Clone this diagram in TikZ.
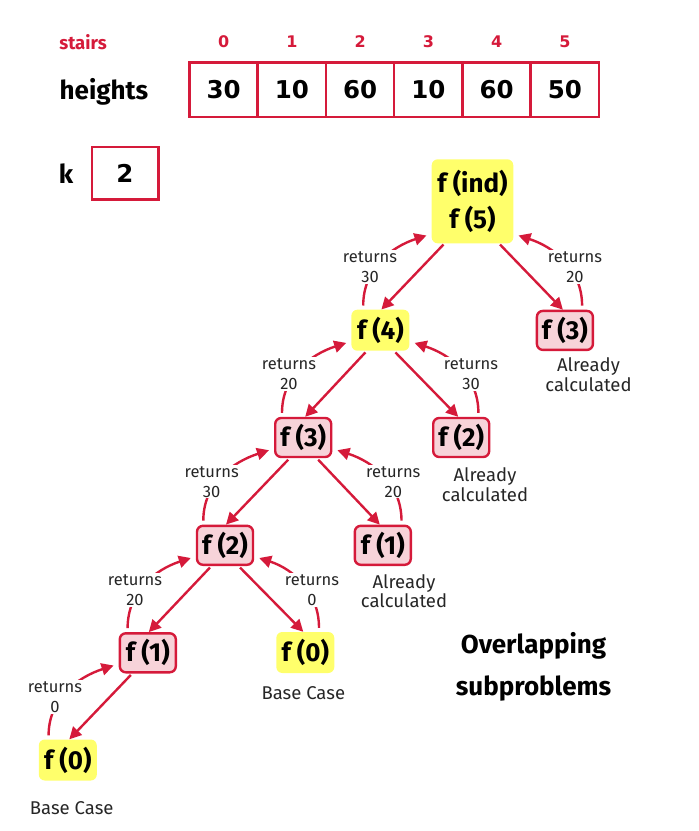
\documentclass[tikz,border=0pt]{standalone}
\usepackage{fontspec}
\setmainfont{Fira Sans}
\newfontfamily\numfont{DejaVu Sans}
\usetikzlibrary{arrows.meta,calc}
\definecolor{myred}{HTML}{D51A3A}
\definecolor{myyellow}{HTML}{FFFF6B}
\definecolor{mypink}{HTML}{F7D3D9}
\begin{document}
\begin{tikzpicture}[x=1pt,y=-1pt,
  fnode/.style={rounded corners=6pt, font=\fontsize{26}{30}\selectfont\bfseries, minimum height=41pt, minimum width=58pt, inner sep=2pt},
  ynode/.style={fnode, fill=myyellow},
  pnode/.style={fnode, fill=mypink, draw=myred, line width=2.4pt, minimum height=39pt, minimum width=56pt},
  edge/.style={draw=myred, line width=2.4pt, -{Triangle[length=12pt,width=12pt]}},
  ret/.style={edge},
  lbl/.style={font=\fontsize{16.5}{20}\selectfont, align=center, fill=white, inner sep=1pt, text=black!85},
  note/.style={font=\fontsize{18.5}{19.5}\selectfont, align=center, text=black!85},
  cell/.style={draw=myred, line width=2.5pt, minimum width=68.25pt, minimum height=54.5pt, inner sep=0pt, font=\numfont\fontsize{24.5}{28}\selectfont\bfseries},
  idx/.style={text=myred, font=\numfont\fontsize{16}{18}\selectfont\bfseries}
]
\useasboundingbox (0,0) rectangle (699,831);

% array
\node[text=myred, font=\fontsize{18.5}{20}\selectfont\bfseries] (stairs) at (83,41.7) {stairs};
\node[font=\fontsize{26}{28}\selectfont\bfseries] (heights) at (104,91.7) {heights};
\foreach \i/\v in {0/30,1/10,2/60,3/10,4/60,5/50}{
  \node[cell] (c\i) at (223.6+68.25*\i,89.5) {\v};
  \node[idx] (i\i) at (223.6+68.25*\i,41.7) {\i};
}
\node[font=\fontsize{26}{28}\selectfont\bfseries] (k) at (66,174) {k};
\node[cell, minimum width=66.5pt, minimum height=52.5pt] (kbox) at (125,173) {2};

% tree nodes
\node[ynode, align=center, minimum width=81.6pt, minimum height=84pt] (f5) at (472.5,201.3) {f (ind)\\[6pt]f (5)};
\node[ynode] (f4) at (380.4,330.2) {f (4)};
\node[pnode] (f3R) at (564.9,330.4) {f (3)};
\node[pnode] (f3) at (303.2,437.5) {f (3)};
\node[pnode] (f2R) at (461.2,437.5) {f (2)};
\node[pnode] (f2) at (225,545.3) {f (2)};
\node[pnode] (f1m) at (382.8,545.3) {f (1)};
\node[pnode] (f1) at (147.8,652.8) {f (1)};
\node[ynode] (f0m) at (305.3,652.5) {f (0)};
\node[ynode] (f0) at (67.8,760) {f (0)};

% tree edges
\draw[edge] ([xshift=-29pt,yshift=-1pt]f5.south) -- ([xshift=1pt]f4.north);
\draw[edge] ([xshift=27.5pt,yshift=-1pt]f5.south) -- ([xshift=-2pt]f3R.north);
\draw[edge] ([xshift=-15pt,yshift=-1.5pt]f4.south) -- ([xshift=2pt]f3.north);
\draw[edge] ([xshift=15pt,yshift=-1.5pt]f4.south) -- ([xshift=-3pt]f2R.north);
\draw[edge] ([xshift=-15pt,yshift=-1.5pt]f3.south) -- ([xshift=1pt]f2.north);
\draw[edge] ([xshift=15pt,yshift=-1.5pt]f3.south) -- ([xshift=-3pt]f1m.north);
\draw[edge] ([xshift=-15pt,yshift=-1.5pt]f2.south) -- ([xshift=1pt]f1.north);
\draw[edge] ([xshift=15pt,yshift=-1.5pt]f2.south) -- ([xshift=-2pt]f0m.north);
\draw[edge] ([xshift=-17pt,yshift=-1.5pt]f1.south) -- ([xshift=1.5pt]f0.north);

% return arcs
\draw[ret] ([xshift=12pt,yshift=4pt]f4.north west) to[out=90,in=198] ([xshift=-5pt,yshift=8pt]f5.south west);
\draw[ret] ([xshift=-12pt,yshift=4pt]f3R.north east) to[out=90,in=-18] ([xshift=5pt,yshift=8pt]f5.south east);
\draw[ret] ([xshift=8pt,yshift=4pt]f3.north west) to[out=90,in=198] ([xshift=-5pt,yshift=8pt]f4.south west);
\draw[ret] ([xshift=-12pt,yshift=4pt]f2R.north east) to[out=90,in=-18] ([xshift=5pt,yshift=8pt]f4.south east);
\draw[ret] ([xshift=7.5pt,yshift=4pt]f2.north west) to[out=90,in=198] ([xshift=-5pt,yshift=8pt]f3.south west);
\draw[ret] ([xshift=-10.5pt,yshift=4pt]f1m.north east) to[out=90,in=-18] ([xshift=5pt,yshift=8pt]f3.south east);
\draw[ret] ([xshift=9pt,yshift=4pt]f1.north west) to[out=90,in=198] ([xshift=-5pt,yshift=8pt]f2.south west);
\draw[ret] ([xshift=-15.5pt,yshift=4pt]f0m.north east) to[out=90,in=-18] ([xshift=5pt,yshift=8pt]f2.south east);
\draw[ret] ([xshift=10pt,yshift=4pt]f0.north west) to[out=90,in=198] ([xshift=-5pt,yshift=8pt]f1.south west);

% return labels
\node[lbl] (r1) at (370,267) {returns\\30};
\node[lbl] (r2) at (575,267) {returns\\20};
\node[lbl] (r3) at (289,374) {returns\\20};
\node[lbl] (r4) at (471,374) {returns\\30};
\node[lbl] (r5) at (211.7,481.7) {returns\\30};
\node[lbl] (r6) at (393.3,481.7) {returns\\20};
\node[lbl] (r7) at (135,590) {returns\\20};
\node[lbl] (r8) at (312,590) {returns\\0};
\node[lbl] (r9) at (55,697) {returns\\0};

% notes
\node[note] (n1) at (588.5,374.5) {Already\\calculated};
\node[note] (n2) at (485,484.7) {Already\\calculated};
\node[note] (n3) at (404,591) {Already\\calculated};
\node[note] (n4) at (303.3,693.3) {Base Case};
\node[note] (n5) at (71.7,808.3) {Base Case};
\node[font=\fontsize{26}{42}\selectfont\bfseries, align=center] (ov) at (533.5,667) {Overlapping\\subproblems};
\end{tikzpicture}
\end{document}
